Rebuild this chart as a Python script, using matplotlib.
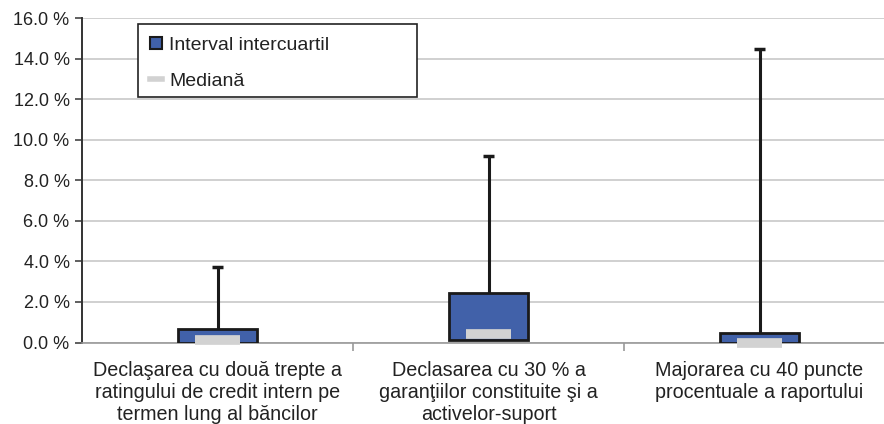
import matplotlib
matplotlib.use("Agg")
import matplotlib.pyplot as plt
from matplotlib.patches import Patch, Rectangle
from matplotlib.lines import Line2D
import numpy as np

plt.rcParams['font.family'] = ['Liberation Sans', 'DejaVu Sans']

categories = [
    "Declaşarea cu două trepte a\nratingului de credit intern pe\ntermen lung al băncilor",
    "Declasarea cu 30 % a\ngaranţiilor constituite şi a\nactivelor-suport",
    "Majorarea cu 40 puncte\nprocentuale a raportului",
]
q1 = [0.0, 0.1, 0.0]
q3 = [0.65, 2.45, 0.45]
median = [0.12, 0.42, 0.0]
maximum = [3.75, 9.2, 14.5]
yticks = [0, 2, 4, 6, 8, 10, 12, 14, 16]

W, H = 884, 424
fig = plt.figure(figsize=(W / 100, H / 100), dpi=100)
ax = fig.add_axes([82 / W, (H - 342.5) / H, 813 / W, (342.5 - 18.3) / H])

x = np.arange(len(categories))
blue = '#4161A9'
grey = '#D2D2D2'
edge = '#1A1A1A'

ax.set_xlim(-0.5, len(categories) - 0.5)
ax.set_ylim(0, 16)
ax.set_yticks(yticks)
ax.set_yticklabels([f"{v:.1f} %" for v in yticks], fontsize=13, color='#222222')
ax.yaxis.grid(True, color='#C8C8C8', linewidth=1.2)
ax.set_axisbelow(True)

ax.bar(x, np.array(q3) - np.array(q1), bottom=q1, width=0.29, color=blue,
       edgecolor=edge, linewidth=2, zorder=3)
ax.vlines(x, q3, maximum, color=edge, linewidth=2.2, zorder=3)
ax.hlines(maximum, x - 0.02, x + 0.02, color=edge, linewidth=2.5, zorder=3)
ax.hlines(median, x - 0.083, x + 0.083, color=grey, linewidth=7, zorder=4, clip_on=False)

ax.set_xticks(x)
ax.set_xticklabels(categories, fontsize=14.2, color='#222222', linespacing=1.2)
ax.tick_params(axis='x', length=0, pad=13)
ax.set_xticks([0.5, 1.5], minor=True)
ax.tick_params(axis='x', which='minor', length=6, color='#999999', width=1.2)
ax.tick_params(axis='y', length=5, color='#444444', width=1.2, pad=4)

for s in ['top', 'right']:
    ax.spines[s].set_visible(False)
ax.spines['left'].set_color('#333333')
ax.spines['left'].set_linewidth(1.4)
ax.spines['bottom'].set_color('#999999')
ax.spines['bottom'].set_linewidth(1.2)

# legend frame drawn explicitly
fig.patches.append(Rectangle((137.7 / W, (H - 97.3) / H), (417 - 137.7) / W, (97.3 - 24.3) / H,
                             transform=fig.transFigure, facecolor='white',
                             edgecolor='#222222', linewidth=1.2, zorder=5))

handles = [
    Patch(facecolor=blue, edgecolor=edge, linewidth=1.5),
    Line2D([0], [0], color=grey, linewidth=4),
]
leg = fig.legend(handles, ["Interval intercuartil", "Mediană"],
                 bbox_to_anchor=(150 / W, (H - 37) / H),
                 loc='upper left', fontsize=14, frameon=False,
                 handlelength=0.6, handleheight=0.6,
                 handletextpad=0.4, labelspacing=0.95, borderaxespad=0, borderpad=0)
leg.set_zorder(6)
for t in leg.get_texts():
    t.set_color('#222222')

fig.savefig("out.png", dpi=100)
